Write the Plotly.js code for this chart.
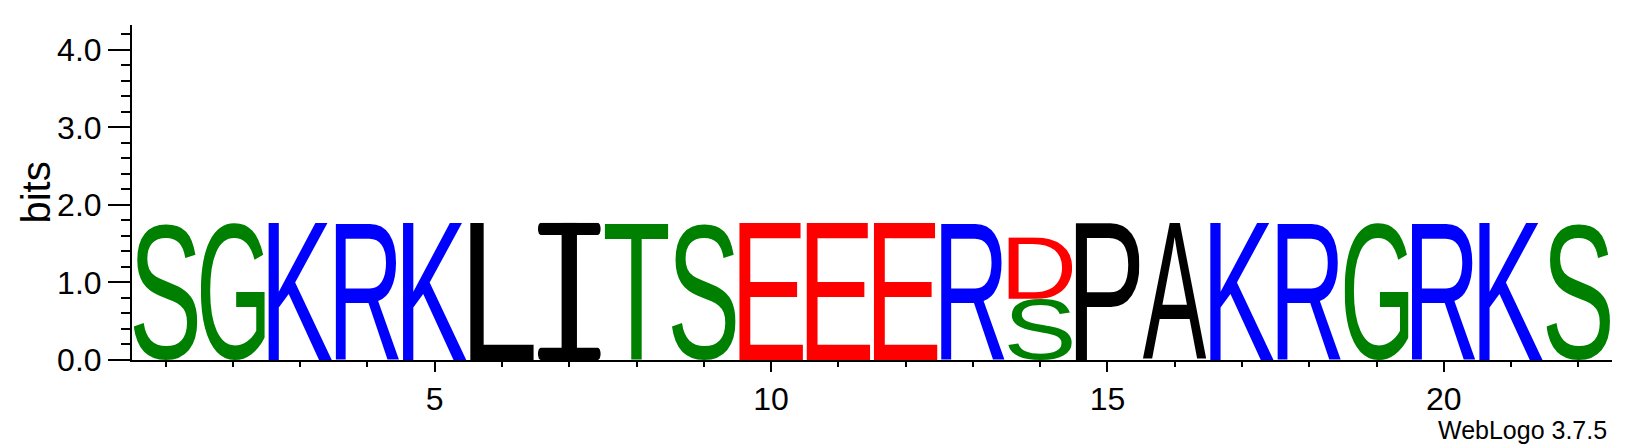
<!DOCTYPE html>
<html>
<head>
<meta charset="utf-8">
<script src="https://cdn.plot.ly/plotly-3.0.1.min.js"></script>
<style>
html,body{margin:0;padding:0;background:#ffffff;}
#chart{width:1636px;height:444px;}
</style>
</head>
<body>
<div id="chart"></div>
<script>
const positions = [1,2,3,4,5,6,7,8,9,10,11,12,13,14,15,16,17,18,19,20,21,22];
// bottom letter of each stack
const bottomLetters = ['S','G','K','R','K','L','I','T','S','E','E','E','R','S','P','A','K','R','G','R','K','S'];
const bottomBits    = [1.77,1.77,1.77,1.77,1.77,1.77,1.77,1.77,1.77,1.77,1.77,1.77,1.77,0.79,1.77,1.77,1.77,1.77,1.77,1.77,1.77,1.77];
// second letter stacked on top (only position 14)
const topLetters = ['','','','','','','','','','','','','','D','','','','','','','',''];
const topBits    = [0,0,0,0,0,0,0,0,0,0,0,0,0,0.79,0,0,0,0,0,0,0,0];
const xTickVals = [5,10,15,20];
const xTickText = ['5','10','15','20'];
const yTickVals = [0,1,2,3,4];
const yTickText = ['0.0','1.0','2.0','3.0','4.0'];
const yMax = 4.32;
const yTitle = 'bits';
const footer = 'WebLogo 3.7.5';

// chemistry colour scheme
const letterColors = {G:'#008000',S:'#008000',T:'#008000',Y:'#008000',C:'#008000',
  N:'#800080',Q:'#800080',K:'#0000ff',R:'#0000ff',H:'#0000ff',D:'#ff0000',E:'#ff0000'};
function colorOf(ch){ return letterColors[ch] || '#000000'; }

// ---- glyph images, stretched to their stack boxes ----
const FAMILY = 'Liberation Sans';
const cv = document.createElement('canvas');
const ctx = cv.getContext('2d');
ctx.font = '200px "' + FAMILY + '"';
function glyphSource(ch, color){
  let svg;
  if(ch === 'I'){
    svg = '<svg xmlns="http://www.w3.org/2000/svg" viewBox="0 0 100 100" preserveAspectRatio="none">' +
      '<rect x="1" y="0" width="98" height="9" rx="4.5" fill="'+color+'"/>' +
      '<rect x="1" y="91" width="98" height="9" rx="4.5" fill="'+color+'"/>' +
      '<rect x="38" y="0" width="24" height="100" fill="'+color+'"/></svg>';
  } else {
    const m = ctx.measureText(ch);
    const l = m.actualBoundingBoxLeft, r = m.actualBoundingBoxRight;
    const a = m.actualBoundingBoxAscent, d = m.actualBoundingBoxDescent;
    svg = '<svg xmlns="http://www.w3.org/2000/svg" viewBox="'+(-l)+' '+(-a)+' '+(l+r)+' '+(a+d)+'" preserveAspectRatio="none">' +
      '<text x="0" y="0" font-family="'+FAMILY+', Arial, sans-serif" font-size="200" fill="'+color+'">'+ch+'</text></svg>';
  }
  return 'data:image/svg+xml;charset=utf-8,' + encodeURIComponent(svg);
}

const colW = 0.95;
const images = [];
positions.forEach(function(p, i){
  const stack = [[bottomLetters[i], bottomBits[i]], [topLetters[i], topBits[i]]];
  let base = 0;
  stack.forEach(function(s){
    const ch = s[0], h = s[1];
    if(ch && h > 0){
      images.push({source: glyphSource(ch, colorOf(ch)), xref:'x', yref:'y',
        x: p - colW/2, y: base + h, sizex: colW, sizey: h,
        sizing:'stretch', xanchor:'left', yanchor:'top', layer:'above'});
    }
    base += h;
  });
});

const traces = [
  {type:'bar', x:positions, y:bottomBits, text:bottomLetters, textposition:'none', width:colW,
   marker:{color:'rgba(0,0,0,0)'}, hovertemplate:'%{text}: %{y:.2f} bits<extra></extra>'},
  {type:'bar', x:positions, y:topBits, text:topLetters, textposition:'none', width:colW,
   marker:{color:'rgba(0,0,0,0)'}, hovertemplate:'%{text}: %{y:.2f} bits<extra></extra>'}
];

const layout = {
  width:1636, height:444,
  margin:{l:132, r:24, t:25, b:84, pad:0},
  paper_bgcolor:'#ffffff', plot_bgcolor:'#ffffff',
  showlegend:false, barmode:'stack', bargap:0,
  font:{family:'"Liberation Sans", Arial, sans-serif', color:'#000000'},
  xaxis:{range:[0.5,22.5], tickmode:'array', tickvals:xTickVals, ticktext:xTickText,
    ticks:'outside', ticklen:10, tickwidth:2, tickcolor:'#000',
    minor:{dtick:1, tick0:0, ticks:'outside', ticklen:5, tickwidth:2, tickcolor:'#000', showgrid:false},
    showline:true, linewidth:2, linecolor:'#000', showgrid:false, zeroline:false,
    tickfont:{size:32, color:'#000'}, fixedrange:true},
  yaxis:{range:[0,yMax], tickmode:'array', tickvals:yTickVals, ticktext:yTickText,
    ticks:'outside', ticklen:22, tickwidth:2, tickcolor:'#000',
    minor:{dtick:0.2, tick0:0, ticks:'outside', ticklen:9, tickwidth:2, tickcolor:'#000', showgrid:false},
    showline:true, linewidth:2, linecolor:'#000', showgrid:false, zeroline:false,
    tickfont:{size:32, color:'#000'}, fixedrange:true},
  images: images,
  annotations:[
    {text:yTitle, textangle:-90, xref:'paper', yref:'paper', x:-0.0655, y:0.5,
     xanchor:'center', yanchor:'middle', showarrow:false, font:{size:40, color:'#000'}},
    {text:footer, xref:'paper', yref:'paper', x:0.998, y:-0.21,
     xanchor:'right', yanchor:'middle', showarrow:false, font:{size:25, color:'#000'}}]
};

Plotly.newPlot('chart', traces, layout, {displayModeBar:false, staticPlot:true});
</script>
</body>
</html>
